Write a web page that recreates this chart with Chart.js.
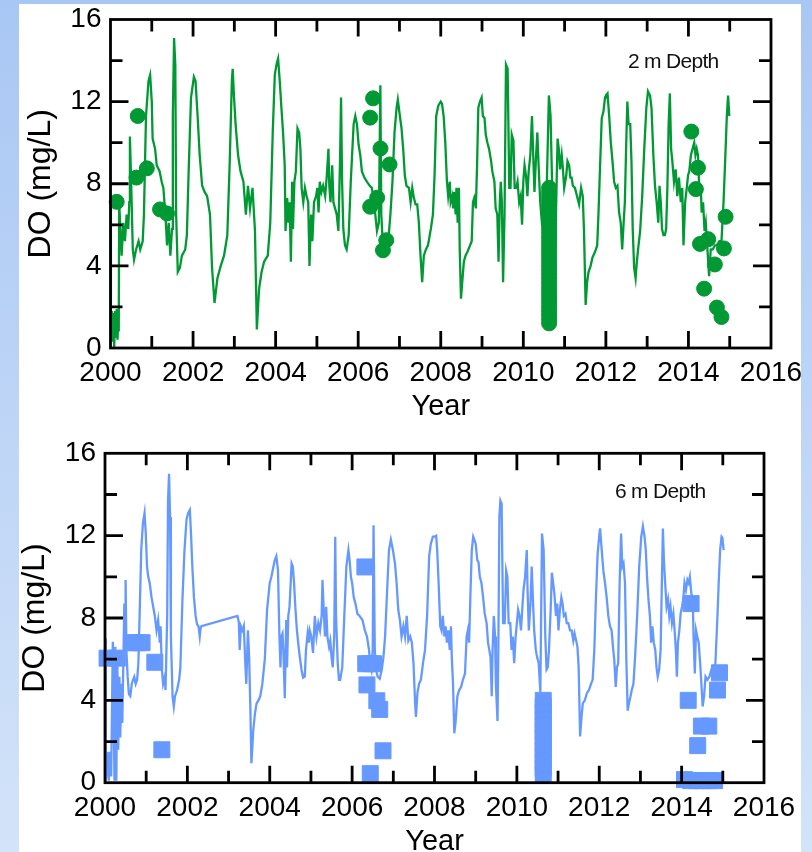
<!DOCTYPE html>
<html>
<head>
<meta charset="utf-8">
<script src="https://cdn.jsdelivr.net/npm/chart.js@4.4.1/dist/chart.umd.min.js"></script>
<style>
    html, body { margin: 0; padding: 0; width: 812px; height: 852px; overflow: hidden; }
    body {
        position: relative;
        background: linear-gradient(to bottom, #a9c7f4, #d3e3f9);
        font-family: "Liberation Sans", Arial, sans-serif;
    }
    #sheet { position: absolute; left: 19px; top: 4px; width: 782px; height: 848px; background: #fff; }
    canvas { position: absolute; left: 0; }
    #chart-2m { top: 0; }
    #chart-6m { top: 426px; }
    .depth {
        position: absolute;
        font-size: 21px;
        line-height: 1;
        letter-spacing: -0.7px;
        color: #111;
        white-space: nowrap;
    }
</style>
</head>
<body>
<div id="sheet"></div>
<canvas id="chart-2m" width="812" height="430"></canvas>
<canvas id="chart-6m" width="812" height="446"></canvas>
<div class="depth" style="left:628px; top:50px;">2 m Depth</div>
<div class="depth" style="left:615px; top:480px;">6 m Depth</div>

<script>
// axis ticks
const yearTicks = [2000, 2002, 2004, 2006, 2008, 2010, 2012, 2014, 2016];
const doTicks = [0, 4, 8, 12, 16];

// 2 m depth - continuous record (decimal year / mg/L)
const line2mYears = [
    2000.00, 2000.01, 2000.03, 2000.05, 2000.07, 2000.09, 2000.11, 2000.13, 2000.15, 2000.17, 2000.19, 2000.20, 2000.21, 2000.27, 2000.31, 2000.35, 2000.39, 2000.43, 2000.455, 2000.47, 2000.50, 2000.54, 2000.57, 2000.62, 2000.68, 2000.72, 2000.78, 2000.81, 2000.86, 2000.92, 2000.96,
    2001.00, 2001.02, 2001.08, 2001.12, 2001.19, 2001.24, 2001.28, 2001.33, 2001.37, 2001.41, 2001.45, 2001.49, 2001.51, 2001.54, 2001.57, 2001.59, 2001.63, 2001.68, 2001.73, 2001.81, 2001.85, 2001.89, 2001.95,
    2002.02, 2002.06, 2002.11, 2002.16, 2002.22, 2002.28, 2002.34, 2002.41, 2002.46, 2002.52, 2002.59, 2002.67, 2002.75, 2002.83, 2002.89, 2002.94, 2002.96, 2002.99,
    2003.03, 2003.09, 2003.15, 2003.22, 2003.28, 2003.33, 2003.38, 2003.44, 2003.50, 2003.545, 2003.60, 2003.66, 2003.72, 2003.81, 2003.87, 2003.93, 2003.98,
    2004.02, 2004.06, 2004.10, 2004.14, 2004.18, 2004.22, 2004.24, 2004.28, 2004.31, 2004.34, 2004.37, 2004.40, 2004.42, 2004.455, 2004.49, 2004.53, 2004.57, 2004.60, 2004.63, 2004.67, 2004.71, 2004.75, 2004.79, 2004.82, 2004.86, 2004.89, 2004.93, 2004.98,
    2005.01, 2005.04, 2005.07, 2005.11, 2005.15, 2005.20, 2005.24, 2005.28, 2005.30, 2005.33, 2005.37, 2005.40, 2005.44, 2005.48, 2005.52, 2005.56, 2005.585, 2005.61, 2005.64, 2005.68, 2005.72, 2005.77, 2005.82, 2005.89, 2005.93, 2005.97,
    2006.01, 2006.05, 2006.09, 2006.15, 2006.21, 2006.28, 2006.33, 2006.37, 2006.415, 2006.455, 2006.50, 2006.52, 2006.537, 2006.56, 2006.585, 2006.62, 2006.66, 2006.70, 2006.74, 2006.78, 2006.83, 2006.88, 2006.93, 2006.96,
    2007.01, 2007.05, 2007.09, 2007.13, 2007.17, 2007.23, 2007.27, 2007.31, 2007.35, 2007.39, 2007.43, 2007.47, 2007.51, 2007.55, 2007.59, 2007.64, 2007.69, 2007.76, 2007.81, 2007.85, 2007.89, 2007.94,
    2008.00, 2008.03, 2008.07, 2008.11, 2008.15, 2008.18, 2008.22, 2008.24, 2008.28, 2008.30, 2008.33, 2008.36, 2008.38, 2008.41, 2008.44, 2008.46, 2008.49, 2008.52, 2008.56, 2008.60, 2008.65, 2008.71, 2008.75, 2008.78, 2008.81, 2008.85, 2008.88, 2008.91, 2008.95, 2008.99,
    2009.02, 2009.06, 2009.09, 2009.13, 2009.17, 2009.22, 2009.25, 2009.30, 2009.33, 2009.37, 2009.40, 2009.43, 2009.455, 2009.48, 2009.51, 2009.545, 2009.58, 2009.62, 2009.66, 2009.69, 2009.72, 2009.76, 2009.79, 2009.83, 2009.86, 2009.90, 2009.935, 2009.97,
    2010.00, 2010.03, 2010.065, 2010.10, 2010.13, 2010.17, 2010.21, 2010.24, 2010.27, 2010.31, 2010.34, 2010.37, 2010.41, 2010.455, 2010.54, 2010.62, 2010.66, 2010.72, 2010.78, 2010.83, 2010.86, 2010.89, 2010.93, 2010.96, 2010.99,
    2011.04, 2011.07, 2011.11, 2011.14, 2011.17, 2011.20, 2011.25, 2011.30, 2011.35, 2011.40, 2011.44, 2011.47, 2011.51, 2011.545, 2011.58, 2011.63, 2011.675, 2011.74, 2011.79, 2011.82, 2011.86, 2011.90, 2011.94, 2011.98,
    2012.00, 2012.04, 2012.08, 2012.12, 2012.16, 2012.20, 2012.24, 2012.28, 2012.32, 2012.36, 2012.395, 2012.43, 2012.46, 2012.49, 2012.52, 2012.55, 2012.59, 2012.62, 2012.65, 2012.685, 2012.72, 2012.75, 2012.78, 2012.83, 2012.88, 2012.93, 2012.98,
    2013.02, 2013.07, 2013.105, 2013.15, 2013.19, 2013.23, 2013.27, 2013.30, 2013.33, 2013.36, 2013.395, 2013.43, 2013.46, 2013.49, 2013.52, 2013.55, 2013.58, 2013.61, 2013.65, 2013.69, 2013.73, 2013.77, 2013.815, 2013.85, 2013.88, 2013.92, 2013.96, 2013.99,
    2014.02, 2014.06, 2014.10, 2014.14, 2014.17, 2014.20, 2014.23, 2014.27, 2014.30, 2014.32, 2014.355, 2014.39, 2014.42, 2014.46, 2014.50, 2014.54, 2014.59, 2014.64, 2014.685, 2014.75, 2014.80, 2014.85, 2014.895, 2014.93, 2014.96, 2014.99
];
const line2mDO = [
    7.0, 1.0, 1.8, 0.3, 1.7, 0.0, 1.8, 0.5, 1.9, 0.4, 1.6, 0.8, 7.1, 4.5, 6.1, 5.2, 6.5, 5.8, 7.1, 10.3, 8.1, 4.8, 4.3, 4.8, 5.2, 4.8, 5.2, 6.5, 11.3, 13.0, 13.3,
    12.0, 10.2, 9.7, 8.9, 8.6, 8.1, 7.8, 6.5, 5.0, 6.1, 4.5, 5.8, 11.3, 15.1, 13.8, 6.5, 3.7, 3.9, 4.5, 4.8, 5.5, 8.4, 12.2,
    13.2, 13.0, 11.3, 9.4, 7.9, 7.6, 7.4, 6.5, 3.9, 2.2, 3.4, 4.0, 4.5, 5.5, 9.2, 13.0, 13.6, 12.3,
    10.9, 9.4, 8.6, 8.1, 6.5, 7.9, 6.8, 7.8, 5.7, 0.9, 2.9, 3.7, 4.2, 4.5, 6.1, 10.5, 13.3,
    13.8, 14.1, 13.0, 11.7, 10.5, 8.9, 5.7, 7.3, 6.1, 7.1, 4.2, 8.1, 5.8, 8.1, 8.6, 10.7, 10.5, 9.7, 7.8, 7.1, 7.8, 7.4, 7.1, 4.0, 6.5, 5.2, 7.1, 7.4,
    7.8, 6.6, 8.1, 7.6, 7.9, 7.4, 8.4, 9.7, 7.9, 7.1, 8.9, 7.1, 6.8, 6.5, 5.7, 9.1, 12.2, 8.1, 5.8, 5.0, 4.8, 5.5, 8.1, 10.9, 11.3, 10.9,
    9.9, 9.4, 8.6, 8.3, 8.1, 7.9, 7.8, 7.3, 6.5, 5.7, 6.1, 9.7, 12.8, 6.5, 5.5, 5.3, 5.2, 5.0, 5.5, 6.5, 8.1, 10.5, 11.7, 12.1,
    11.3, 10.7, 9.7, 8.4, 7.9, 7.8, 7.1, 7.8, 7.3, 7.0, 7.0, 6.1, 4.5, 3.2, 4.5, 4.8, 5.0, 5.8, 6.5, 8.4, 11.3, 11.8,
    12.0, 11.9, 11.3, 10.0, 8.1, 7.4, 8.1, 7.1, 7.4, 6.8, 7.6, 6.5, 7.8, 6.1, 7.8, 4.8, 2.4, 3.2, 4.2, 4.5, 4.7, 5.0, 5.2, 7.1, 7.3, 6.8, 8.9, 11.7, 12.0, 12.2,
    11.3, 11.2, 10.4, 10.0, 9.7, 9.1, 8.6, 8.1, 6.8, 6.5, 4.2, 7.1, 8.1, 7.1, 3.2, 6.5, 13.8, 13.6, 7.8, 7.8, 10.4, 10.1, 7.8, 7.8, 8.1, 7.1, 7.4, 6.0,
    8.1, 8.9, 8.4, 7.4, 8.6, 9.4, 11.3, 9.4, 7.6, 9.4, 10.5, 8.9, 7.1, 6.0, 5.5, 12.3, 11.3, 6.0, 5.5, 10.2, 9.7, 8.7, 9.4, 8.7, 7.8,
    8.4, 9.1, 8.9, 8.3, 8.3, 7.9, 7.8, 7.4, 7.0, 7.8, 7.4, 5.7, 2.1, 3.2, 3.7, 4.0, 4.4, 4.7, 5.0, 6.5, 8.9, 11.2, 11.5, 12.2,
    12.3, 12.4, 11.3, 10.0, 9.1, 8.1, 7.8, 7.9, 6.6, 6.1, 4.8, 6.1, 7.1, 9.7, 12.0, 10.9, 10.9, 9.1, 5.8, 3.9, 3.4, 4.2, 4.8, 5.7, 7.4, 9.7, 11.7,
    12.5, 12.3, 11.7, 9.4, 7.9, 7.1, 6.1, 7.9, 7.1, 5.8, 5.5, 5.5, 5.8, 7.8, 10.9, 12.4, 9.7, 9.1, 8.1, 8.7, 7.4, 8.3, 7.1, 7.8, 5.0, 7.1, 7.8, 8.4,
    8.6, 9.4, 9.7, 10.0, 9.4, 9.7, 9.4, 7.4, 7.8, 6.6, 7.1, 5.7, 6.1, 4.8, 3.5, 4.8, 4.8, 5.0, 5.0, 5.2, 5.2, 7.1, 9.4, 11.3, 12.3, 11.3
];

// 2 m depth - discrete profile samples
const obs2mYears = [
    2000.15, 2000.66, 2000.63, 2000.88, 2001.20, 2001.37,
    2006.36, 2006.29, 2006.54, 2006.76, 2006.46, 2006.29, 2006.68, 2006.60,
    2010.625, 2010.625, 2010.625, 2010.625, 2010.625, 2010.625, 2010.625, 2010.625, 2010.625, 2010.625, 2010.625, 2010.625,
    2010.625, 2010.625, 2010.625, 2010.625, 2010.625, 2010.625, 2010.625, 2010.625, 2010.625, 2010.625, 2010.625, 2010.625,
    2010.625, 2010.625, 2010.625, 2010.625, 2010.625, 2010.625, 2010.625, 2010.625, 2010.625, 2010.625,
    2014.07, 2014.23, 2014.18, 2014.28, 2014.48, 2014.64, 2014.90, 2014.86, 2014.38, 2014.69, 2014.80
];
const obs2mDO = [
    7.12, 11.3, 8.3, 8.75, 6.75, 6.55,
    12.16, 11.22, 9.72, 8.94, 7.32, 6.88, 5.25, 4.76,
    7.8, 7.6, 7.4, 7.2, 7.0, 6.8, 6.6, 6.4, 6.2, 6.0, 5.8, 5.6,
    5.4, 5.2, 5.0, 4.8, 4.6, 4.4, 4.2, 4.0, 3.8, 3.6, 3.4, 3.2,
    3.0, 2.8, 2.6, 2.4, 2.2, 2.0, 1.8, 1.6, 1.4, 1.2,
    10.54, 8.78, 7.74, 5.07, 5.30, 4.07, 6.39, 4.85, 2.89, 1.97, 1.51
];

// 6 m depth - continuous record
const line6mYears = [
    2000.00, 2000.02, 2000.06, 2000.09, 2000.12, 2000.15, 2000.19, 2000.23, 2000.25, 2000.275, 2000.30, 2000.32, 2000.35, 2000.37, 2000.40, 2000.42, 2000.45, 2000.47, 2000.49, 2000.50, 2000.52, 2000.55, 2000.58, 2000.615, 2000.65, 2000.68, 2000.71, 2000.745, 2000.78, 2000.81, 2000.84, 2000.88, 2000.92, 2000.96, 2000.99,
    2001.02, 2001.05, 2001.085, 2001.13, 2001.17, 2001.21, 2001.25, 2001.29, 2001.33, 2001.35, 2001.38, 2001.41, 2001.45, 2001.47, 2001.51, 2001.53, 2001.555, 2001.58, 2001.60, 2001.64, 2001.67, 2001.70, 2001.75, 2001.80, 2001.83, 2001.88, 2001.93, 2001.98,
    2002.02, 2002.06, 2002.09, 2002.12, 2002.16, 2002.20, 2002.235, 2002.27, 2002.30, 2002.32, 2002.34,
    2003.215, 2003.25, 2003.27, 2003.30, 2003.34, 2003.37, 2003.40, 2003.43, 2003.47, 2003.50, 2003.53, 2003.555, 2003.60, 2003.64, 2003.68, 2003.725, 2003.77, 2003.82, 2003.88, 2003.935,
    2004.00, 2004.04, 2004.12, 2004.16, 2004.20, 2004.235, 2004.26, 2004.28, 2004.31, 2004.33, 2004.365, 2004.40, 2004.42, 2004.45, 2004.48, 2004.50, 2004.53, 2004.56, 2004.59, 2004.625, 2004.66, 2004.69, 2004.73, 2004.77, 2004.81, 2004.85, 2004.88, 2004.92, 2004.95, 2004.97,
    2005.01, 2005.05, 2005.095, 2005.135, 2005.18, 2005.22, 2005.26, 2005.28, 2005.31, 2005.34, 2005.37, 2005.40, 2005.44, 2005.47, 2005.50, 2005.53, 2005.565, 2005.59, 2005.61, 2005.65, 2005.68, 2005.71, 2005.76, 2005.81, 2005.86, 2005.91, 2005.94, 2005.97,
    2006.00, 2006.04, 2006.08, 2006.13, 2006.18, 2006.25, 2006.31, 2006.36, 2006.41, 2006.44, 2006.47, 2006.50, 2006.52, 2006.55, 2006.58, 2006.62, 2006.67, 2006.72, 2006.76, 2006.80, 2006.85, 2006.895, 2006.94, 2006.99,
    2007.04, 2007.08, 2007.12, 2007.16, 2007.20, 2007.245, 2007.285, 2007.325, 2007.365, 2007.41, 2007.45, 2007.49, 2007.53, 2007.55, 2007.585, 2007.625, 2007.67, 2007.72, 2007.77, 2007.82, 2007.87, 2007.91, 2007.96,
    2008.00, 2008.04, 2008.065, 2008.10, 2008.14, 2008.17, 2008.20, 2008.24, 2008.27, 2008.30, 2008.335, 2008.37, 2008.40, 2008.42, 2008.45, 2008.48, 2008.51, 2008.555, 2008.60, 2008.645, 2008.69, 2008.74, 2008.78, 2008.81, 2008.84, 2008.87, 2008.905, 2008.94, 2008.97,
    2009.00, 2009.04, 2009.07, 2009.10, 2009.14, 2009.18, 2009.22, 2009.265, 2009.30, 2009.33, 2009.36, 2009.39, 2009.41, 2009.44, 2009.47, 2009.49, 2009.53, 2009.55, 2009.575, 2009.60, 2009.63, 2009.665, 2009.705, 2009.74, 2009.77, 2009.80, 2009.84, 2009.87, 2009.90, 2009.935, 2009.97,
    2010.00, 2010.03, 2010.065, 2010.10, 2010.13, 2010.16, 2010.20, 2010.24, 2010.26, 2010.29, 2010.33, 2010.36, 2010.39, 2010.42, 2010.46, 2010.49, 2010.53, 2010.57, 2010.61, 2010.65, 2010.69, 2010.72, 2010.75, 2010.78, 2010.82, 2010.85, 2010.88, 2010.91, 2010.95, 2010.98,
    2011.01, 2011.045, 2011.08, 2011.11, 2011.14, 2011.18, 2011.21, 2011.25, 2011.29, 2011.33, 2011.37, 2011.40, 2011.44, 2011.47, 2011.50, 2011.535, 2011.57, 2011.60, 2011.65, 2011.70, 2011.75, 2011.80, 2011.84, 2011.88, 2011.92, 2011.96,
    2012.00, 2012.02, 2012.06, 2012.10, 2012.14, 2012.18, 2012.22, 2012.26, 2012.30, 2012.34, 2012.365, 2012.40, 2012.43, 2012.46, 2012.495, 2012.53, 2012.56, 2012.59, 2012.625, 2012.66, 2012.69, 2012.72, 2012.76, 2012.79, 2012.83, 2012.87, 2012.92, 2012.97,
    2013.02, 2013.06, 2013.10, 2013.13, 2013.16, 2013.195, 2013.23, 2013.26, 2013.29, 2013.325, 2013.36, 2013.39, 2013.42, 2013.455, 2013.49, 2013.52, 2013.545, 2013.57, 2013.60, 2013.635, 2013.67, 2013.70, 2013.73, 2013.765, 2013.80, 2013.83, 2013.86, 2013.885, 2013.91, 2013.945, 2013.975,
    2014.01, 2014.04, 2014.07, 2014.105, 2014.14, 2014.17, 2014.20, 2014.235, 2014.27, 2014.29, 2014.32, 2014.35, 2014.38, 2014.415, 2014.45, 2014.48, 2014.51, 2014.545, 2014.58, 2014.625, 2014.675, 2014.725, 2014.77, 2014.82, 2014.87, 2014.90, 2014.935, 2014.97, 2014.99, 2015.02
];
const line6mDO = [
    7.0, 0.1, 1.5, 0.1, 1.5, 0.3, 6.85, 0.1, 6.6, 0.1, 5.8, 1.6, 5.15, 2.2, 4.8, 2.9, 6.4, 8.7, 6.4, 9.85, 6.4, 5.15, 4.3, 4.2, 4.8, 5.0, 5.15, 4.8, 5.0, 5.8, 8.1, 11.3, 12.6, 13.1, 12.1,
    10.5, 10.0, 9.7, 9.0, 8.55, 8.1, 7.4, 7.9, 6.8, 7.6, 5.5, 4.8, 5.15, 4.5, 8.1, 13.7, 15.0, 12.9, 7.1, 4.2, 3.7, 4.2, 4.5, 5.0, 5.6, 8.9, 11.3, 12.8,
    13.1, 13.25, 12.0, 10.5, 9.0, 8.1, 7.7, 7.6, 7.1, 7.5, 7.6,
    8.1, 7.8, 6.45, 7.6, 7.4, 7.6, 6.1, 4.8, 7.4, 6.1, 3.5, 0.95, 2.55, 3.35, 3.85, 4.0, 4.2, 4.8, 6.0, 8.4,
    9.7, 10.0, 10.8, 11.0, 10.3, 7.1, 5.6, 7.1, 7.25, 6.45, 4.1, 7.9, 5.6, 8.1, 8.55, 9.35, 10.65, 10.5, 9.7, 8.4, 7.4, 6.8, 6.1, 5.5, 5.1, 5.15, 6.45, 7.25, 6.8, 7.4,
    7.1, 6.3, 8.1, 7.1, 7.75, 7.4, 8.1, 9.85, 8.4, 7.1, 8.55, 7.1, 6.6, 6.9, 6.1, 5.6, 7.1, 11.95, 8.1, 5.8, 5.0, 5.0, 5.6, 8.1, 10.5, 11.3, 10.8, 10.0,
    9.7, 9.0, 8.7, 8.2, 8.1, 7.9, 7.4, 7.1, 6.45, 5.8, 5.5, 6.45, 12.5, 6.45, 5.5, 5.15, 5.05, 5.5, 6.1, 7.1, 9.35, 11.3, 11.8, 11.3,
    10.65, 9.7, 8.4, 7.9, 7.1, 7.6, 7.1, 8.1, 6.9, 7.1, 6.8, 5.8, 3.85, 3.2, 4.35, 4.8, 5.0, 5.8, 6.45, 8.1, 11.0, 11.6, 11.95,
    11.95, 12.0, 11.3, 9.7, 7.6, 7.4, 8.1, 7.1, 7.6, 6.8, 7.4, 6.45, 7.6, 6.1, 4.8, 2.4, 2.9, 4.2, 4.5, 4.65, 5.0, 5.3, 7.1, 7.4, 6.8, 9.0, 11.3, 11.95, 11.8,
    11.6, 10.8, 10.7, 10.0, 9.7, 9.0, 8.2, 7.75, 6.8, 6.45, 6.1, 4.2, 6.45, 8.1, 7.1, 4.8, 3.0, 6.45, 12.9, 13.7, 13.55, 7.75, 7.75, 10.3, 10.0, 7.75, 7.75, 6.45, 7.1, 5.8, 7.1,
    7.75, 8.4, 8.1, 7.4, 8.4, 9.35, 10.0, 11.3, 9.35, 7.4, 8.7, 10.5, 8.9, 7.4, 6.45, 6.1, 5.8, 4.4, 12.1, 11.3, 7.1, 5.5, 5.6, 6.45, 8.4, 10.2, 9.7, 9.2, 8.1, 8.7,
    7.4, 8.4, 9.0, 8.7, 8.1, 8.2, 7.75, 7.75, 7.4, 7.4, 6.9, 7.25, 6.9, 6.6, 5.6, 2.25, 3.2, 3.85, 4.0, 4.35, 4.5, 4.8, 5.0, 6.45, 9.0, 11.1,
    12.0, 12.35, 11.3, 10.3, 9.7, 9.0, 8.1, 7.6, 7.4, 6.45, 5.95, 4.65, 5.6, 5.8, 9.7, 12.1, 10.5, 10.65, 9.7, 5.8, 3.5, 3.85, 4.2, 4.5, 4.8, 6.1, 8.1, 10.5,
    11.95, 12.45, 11.95, 11.3, 10.0, 8.9, 8.1, 6.8, 7.6, 6.8, 6.45, 5.6, 5.15, 5.5, 6.45, 9.7, 12.35, 10.8, 9.7, 8.55, 8.9, 8.1, 8.55, 7.75, 8.2, 7.4, 6.45, 5.15, 6.8, 7.4, 8.2,
    8.55, 8.9, 9.7, 9.35, 9.85, 9.7, 10.0, 9.2, 8.9, 7.1, 5.3, 7.4, 7.1, 6.8, 5.8, 4.8, 3.7, 4.2, 5.15, 5.0, 5.15, 5.5, 5.4, 5.8, 8.1, 9.7, 11.3, 11.95, 11.9, 11.3
];

// 6 m depth - discrete profile samples
const obs6mYears = [
    2000.05, 2000.30, 2000.65, 2000.78, 2000.90, 2001.21, 2001.38,
    2006.31, 2006.33, 2006.43, 2006.52, 2006.36, 2006.60, 2006.67, 2006.75, 2006.44,
    2010.64, 2010.64, 2010.64, 2010.64, 2010.64, 2010.64, 2010.64, 2010.64, 2010.64, 2010.64, 2010.64, 2010.64, 2010.64,
    2014.23, 2014.16, 2014.48, 2014.66, 2014.39, 2014.92, 2014.87, 2014.07, 2014.22, 2014.37, 2014.52, 2014.66, 2014.80
];
const obs6mDO = [
    6.05, 6.05, 6.8, 6.8, 6.8, 5.85, 1.6,
    10.48, 5.78, 5.78, 5.78, 4.75, 3.98, 3.56, 1.55, 0.44,
    4.0, 3.7, 3.4, 3.1, 2.8, 2.5, 2.2, 1.9, 1.6, 1.3, 1.0, 0.7, 0.45,
    8.7, 4.0, 2.75, 2.75, 1.8, 5.34, 4.5, 0.15, 0.1, 0.1, 0.1, 0.1, 0.1
];

const FONT = '"Liberation Sans", Arial, sans-serif';
Chart.defaults.font.family = FONT;
Chart.defaults.color = '#000';

const toPoints = (xs, ys) => {
    if (xs.length !== ys.length) console.warn('length mismatch', xs.length, ys.length);
    return xs.map((x, i) => ({ x: x, y: ys[i] }));
};

// KaleidaGraph style frame: box with inward ticks on all four sides
const frameTicks = {
    id: 'frameTicks',
    afterDatasetsDraw(chart) {
        const { ctx, chartArea: a, scales: { x, y } } = chart;
        ctx.save();
        ctx.strokeStyle = '#000';
        ctx.lineWidth = 2.8;
        ctx.beginPath();
        for (let yr = 2001; yr < 2016; yr++) {
            const px = x.getPixelForValue(yr);
            const len = yr % 2 === 0 ? 17 : 12;
            ctx.moveTo(px, a.bottom); ctx.lineTo(px, a.bottom - len);
            ctx.moveTo(px, a.top); ctx.lineTo(px, a.top + len);
        }
        for (let v = 2; v < 16; v += 2) {
            const py = y.getPixelForValue(v);
            const len = v % 4 === 0 ? 18 : 12;
            ctx.moveTo(a.left, py); ctx.lineTo(a.left + len, py);
            ctx.moveTo(a.right, py); ctx.lineTo(a.right - len, py);
        }
        ctx.stroke();
        ctx.strokeRect(a.left, a.top, a.right - a.left, a.bottom - a.top);
        ctx.restore();
    }
};

function makeChart(id, opts) {
    const canvas = document.getElementById(id);
    return new Chart(canvas, {
        type: 'scatter',
        data: {
            datasets: [
                {
                    data: toPoints(opts.obsYears, opts.obsDO),
                    pointStyle: opts.pointStyle,
                    pointRadius: opts.pointRadius,
                    pointBackgroundColor: opts.color,
                    pointBorderColor: opts.color,
                    pointBorderWidth: 1,
                    showLine: false,
                    clip: false
                },
                {
                    data: toPoints(opts.lineYears, opts.lineDO),
                    showLine: true,
                    borderColor: opts.color,
                    borderWidth: 2.3,
                    pointRadius: 0,
                    tension: 0
                }
            ]
        },
        options: {
            responsive: false,
            animation: false,
            events: [],
            layout: { padding: opts.padding },
            plugins: {
                legend: { display: false },
                tooltip: { enabled: false }
            },
            scales: {
                x: {
                    type: 'linear',
                    min: 2000,
                    max: 2016,
                    grid: { display: false, drawTicks: false },
                    border: { display: false },
                    afterBuildTicks: (scale) => { scale.ticks = yearTicks.map(v => ({ value: v })); },
                    ticks: {
                        padding: 8.5,
                        maxRotation: 0,
                        autoSkip: false,
                        color: '#000',
                        font: { size: 28 },
                        callback: (v) => String(v)
                    },
                    title: {
                        display: true,
                        text: 'Year',
                        color: '#000',
                        font: { size: 29 },
                        padding: 0
                    },
                    afterFit: (scale) => { scale.height = opts.xAxisHeight; }
                },
                y: {
                    type: 'linear',
                    min: 0,
                    max: 16,
                    grid: { display: false, drawTicks: false },
                    border: { display: false },
                    afterBuildTicks: (scale) => { scale.ticks = doTicks.map(v => ({ value: v })); },
                    ticks: {
                        padding: 9,
                        color: '#000',
                        font: { size: 28 }
                    },
                    title: {
                        display: true,
                        text: 'DO (mg/L)',
                        color: '#000',
                        font: { size: 32 },
                        padding: 0
                    },
                    afterFit: (scale) => {
                        scale.width = opts.yAxisWidth;
                        // the end labels may hang over the frame, as in the original
                        scale.paddingTop = 0;
                        scale.paddingBottom = 0;
                    }
                }
            }
        },
        plugins: [frameTicks]
    });
}

makeChart('chart-2m', {
    lineYears: line2mYears, lineDO: line2mDO,
    obsYears: obs2mYears, obsDO: obs2mDO,
    color: '#009933',
    pointStyle: 'circle',
    pointRadius: 7.5,
    padding: { left: 22.2, right: 41, top: 19.5, bottom: 5.6 },
    yAxisWidth: 88.3,
    xAxisHeight: 76.4
});

makeChart('chart-6m', {
    lineYears: line6mYears, lineDO: line6mDO,
    obsYears: obs6mYears, obsDO: obs6mDO,
    color: '#6699ff',
    pointStyle: 'rect',
    pointRadius: 11.3,
    padding: { left: 15.5, right: 48, top: 27.3, bottom: 13.1 },
    yAxisWidth: 89.5,
    xAxisHeight: 76.2
});
</script>
</body>
</html>
